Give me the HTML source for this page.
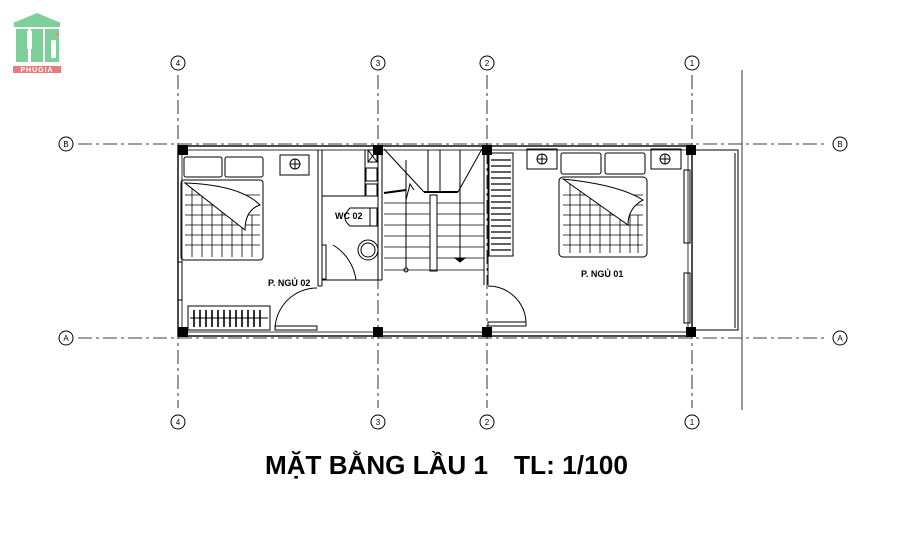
<!DOCTYPE html>
<html><head><meta charset="utf-8"><style>
html,body{margin:0;padding:0;background:#fff;}
svg{display:block;}
text{font-family:"Liberation Sans",sans-serif;}
</style></head><body>
<svg width="900" height="542" viewBox="0 0 900 542" xmlns="http://www.w3.org/2000/svg">
<rect width="900" height="542" fill="#fff"/>
<!-- logo -->
<g>
<polygon points="13,23 37,13 61,23" fill="#7fcf9a"/>
<rect x="14" y="22" width="46" height="5" fill="#7fcf9a"/>
<rect x="16" y="29" width="12" height="33" fill="#7fcf9a"/>
<rect x="31" y="29" width="12" height="33" fill="#7fcf9a"/>
<rect x="45" y="29" width="14" height="33" fill="#7fcf9a"/>
<rect x="27" y="31" width="5" height="18" fill="#fff"/>
<rect x="51" y="40" width="5" height="18" fill="#fff"/>
<rect x="56" y="33" width="3" height="3" fill="#e88"/>
<rect x="13" y="66" width="48" height="7" fill="#e87c7c"/>
<text x="37" y="72" font-size="7" fill="#fff" text-anchor="middle" font-weight="bold" letter-spacing="1">PHUGIA</text>
</g>
<g stroke="#000" fill="none" stroke-width="1">
<g stroke-dasharray="14,4,3,4" stroke-width="0.8">
<line x1="178" y1="75" x2="178" y2="408"/>
<line x1="378" y1="75" x2="378" y2="408"/>
<line x1="487" y1="75" x2="487" y2="408"/>
<line x1="692" y1="75" x2="692" y2="408"/>
<line x1="78" y1="144" x2="828" y2="144"/>
<line x1="78" y1="338" x2="828" y2="338"/>
</g>
<line x1="742" y1="70" x2="742" y2="410" stroke-width="0.8"/>
<g stroke-width="1">
<circle cx="178" cy="63" r="7"/><circle cx="378" cy="63" r="7"/><circle cx="487" cy="63" r="7"/><circle cx="692" cy="63" r="7"/>
<circle cx="178" cy="422" r="7"/><circle cx="378" cy="422" r="7"/><circle cx="487" cy="422" r="7"/><circle cx="692" cy="422" r="7"/>
<circle cx="66" cy="144" r="7"/><circle cx="840" cy="144" r="7"/><circle cx="66" cy="338" r="7"/><circle cx="840" cy="338" r="7"/>
</g>
<rect x="178" y="146" width="514" height="190" stroke-width="1.4"/>
<rect x="182" y="150" width="506" height="182" stroke-width="0.8"/>
<rect x="692" y="150" width="46" height="180"/>
<line x1="735" y1="153" x2="735" y2="328"/>
<line x1="318" y1="150" x2="318" y2="286"/>
<line x1="322" y1="150" x2="322" y2="286"/>
<line x1="318" y1="286" x2="322" y2="286"/>
<line x1="378" y1="150" x2="378" y2="280"/>
<line x1="382" y1="150" x2="382" y2="280"/>
<line x1="322" y1="280" x2="382" y2="280"/>
<line x1="484" y1="150" x2="484" y2="285"/>
<line x1="488" y1="150" x2="488" y2="285"/>
<line x1="322" y1="196" x2="365" y2="196"/>
<line x1="365" y1="150" x2="365" y2="196"/>
<path d="M275,330 A42,42 0 0 1 317,288"/>
<rect x="275" y="326" width="42" height="4"/>
<path d="M333,245 A48,48 0 0 1 356,280"/>
<rect x="322" y="245" width="4" height="34"/>
<path d="M488,286 A38,38 0 0 1 526,322"/>
<rect x="488" y="322" width="38" height="4"/>
<g fill="#000" stroke="none">
<rect x="178" y="145" width="10" height="10"/><rect x="373" y="145" width="10" height="10"/><rect x="482" y="145" width="10" height="10"/><rect x="686" y="145" width="10" height="10"/>
<rect x="178" y="327" width="10" height="10"/><rect x="373" y="327" width="10" height="10"/><rect x="482" y="327" width="10" height="10"/><rect x="686" y="327" width="10" height="10"/>
</g>
<rect x="184" y="157" width="38" height="20" rx="2"/><rect x="225" y="157" width="38" height="20" rx="2"/>
<rect x="181" y="180" width="82" height="80" rx="3"/>
<rect x="280" y="155" width="29" height="20"/><circle cx="295" cy="164" r="5"/><line x1="290" y1="164" x2="300" y2="164"/><line x1="295" y1="159" x2="295" y2="169"/>
<g stroke-width="0.8">
<line x1="185" y1="195" x2="260" y2="195"/><line x1="185" y1="205" x2="260" y2="205"/><line x1="185" y1="215" x2="260" y2="215"/><line x1="185" y1="225" x2="260" y2="225"/><line x1="185" y1="235" x2="260" y2="235"/><line x1="185" y1="245" x2="260" y2="245"/>
<line x1="192" y1="185" x2="192" y2="257"/><line x1="202" y1="185" x2="202" y2="257"/><line x1="212" y1="190" x2="212" y2="257"/><line x1="222" y1="195" x2="222" y2="257"/><line x1="232" y1="205" x2="232" y2="257"/><line x1="242" y1="215" x2="242" y2="257"/><line x1="252" y1="215" x2="252" y2="257"/>
</g>
<path d="M185,183 Q240,185 260,205 Q245,210 245,230 Z" fill="#fff"/>
<rect x="188" y="306" width="82" height="24"/>
<g stroke-width="1.6"><line x1="194" y1="310" x2="194" y2="327"/><line x1="200" y1="310" x2="200" y2="327"/><line x1="206" y1="310" x2="206" y2="327"/><line x1="212" y1="310" x2="212" y2="327"/><line x1="218" y1="310" x2="218" y2="327"/><line x1="224" y1="310" x2="224" y2="327"/><line x1="230" y1="310" x2="230" y2="327"/><line x1="236" y1="310" x2="236" y2="327"/><line x1="242" y1="310" x2="242" y2="327"/><line x1="248" y1="310" x2="248" y2="327"/><line x1="254" y1="310" x2="254" y2="327"/><line x1="260" y1="310" x2="260" y2="327"/></g>
<line x1="190" y1="318" x2="268" y2="318"/>
<rect x="178" y="262" width="4" height="38"/>
<rect x="368" y="150" width="9" height="12"/><line x1="368" y1="150" x2="377" y2="162"/><line x1="377" y1="150" x2="368" y2="162"/>
<rect x="366" y="168" width="11" height="13"/><rect x="366" y="184" width="11" height="12"/>
<path d="M350,208 Q340,218 350,226 L370,226 L370,208 Z"/><rect x="370" y="208" width="7" height="18"/>
<circle cx="368" cy="250" r="10"/><circle cx="368" cy="250" r="7"/>
<line x1="384" y1="149" x2="424" y2="192"/><line x1="482" y1="149" x2="458" y2="192"/>
<line x1="424" y1="192" x2="458" y2="192" stroke-width="2"/>
<line x1="384" y1="193" x2="406" y2="190" stroke-width="2"/>
<path d="M406,200 L410,184 L414,190"/>
<line x1="406" y1="160" x2="406" y2="268"/><line x1="428" y1="150" x2="428" y2="192"/><line x1="440" y1="150" x2="440" y2="192"/><line x1="460" y1="150" x2="460" y2="258"/>
<rect x="430" y="195" width="7" height="76"/>
<g stroke-width="0.8">
<line x1="384" y1="203" x2="430" y2="203"/><line x1="437" y1="203" x2="484" y2="203"/>
<line x1="384" y1="214" x2="430" y2="214"/><line x1="437" y1="214" x2="484" y2="214"/>
<line x1="384" y1="225" x2="430" y2="225"/><line x1="437" y1="225" x2="484" y2="225"/>
<line x1="384" y1="236" x2="430" y2="236"/><line x1="437" y1="236" x2="484" y2="236"/>
<line x1="384" y1="247" x2="430" y2="247"/><line x1="437" y1="247" x2="484" y2="247"/>
<line x1="384" y1="258" x2="430" y2="258"/><line x1="437" y1="258" x2="484" y2="258"/>
<line x1="384" y1="270" x2="484" y2="270"/>
</g>
<circle cx="406" cy="270" r="2"/><path d="M455,258 L465,258 L460,262 Z" fill="#000"/>
<rect x="489" y="153" width="24" height="103"/>
<g stroke-width="1.2"><line x1="491" y1="160" x2="511" y2="160"/><line x1="491" y1="166" x2="511" y2="166"/><line x1="491" y1="172" x2="511" y2="172"/><line x1="491" y1="178" x2="511" y2="178"/><line x1="491" y1="184" x2="511" y2="184"/><line x1="491" y1="190" x2="511" y2="190"/><line x1="491" y1="196" x2="511" y2="196"/><line x1="491" y1="202" x2="511" y2="202"/><line x1="491" y1="208" x2="511" y2="208"/><line x1="491" y1="214" x2="511" y2="214"/><line x1="491" y1="220" x2="511" y2="220"/><line x1="491" y1="226" x2="511" y2="226"/><line x1="491" y1="232" x2="511" y2="232"/><line x1="491" y1="238" x2="511" y2="238"/><line x1="491" y1="244" x2="511" y2="244"/><line x1="491" y1="250" x2="511" y2="250"/></g>
<rect x="527" y="149" width="30" height="20"/><circle cx="542" cy="159" r="5"/><line x1="537" y1="159" x2="547" y2="159"/><line x1="542" y1="154" x2="542" y2="164"/>
<rect x="651" y="149" width="30" height="20"/><circle cx="665" cy="159" r="5"/><line x1="660" y1="159" x2="670" y2="159"/><line x1="665" y1="154" x2="665" y2="164"/>
<rect x="561" y="153" width="40" height="21" rx="2"/><rect x="605" y="153" width="40" height="21" rx="2"/>
<rect x="559" y="177" width="88" height="80" rx="4"/>
<g stroke-width="0.8">
<line x1="563" y1="195" x2="643" y2="195"/><line x1="563" y1="205" x2="643" y2="205"/><line x1="563" y1="215" x2="643" y2="215"/><line x1="563" y1="225" x2="643" y2="225"/><line x1="563" y1="235" x2="643" y2="235"/><line x1="563" y1="245" x2="643" y2="245"/>
<line x1="570" y1="182" x2="570" y2="253"/><line x1="580" y1="182" x2="580" y2="253"/><line x1="590" y1="186" x2="590" y2="253"/><line x1="600" y1="190" x2="600" y2="253"/><line x1="610" y1="196" x2="610" y2="253"/><line x1="620" y1="205" x2="620" y2="253"/><line x1="630" y1="215" x2="630" y2="253"/><line x1="638" y1="215" x2="638" y2="253"/>
</g>
<path d="M563,179 Q620,185 643,200 Q628,208 628,225 Z" fill="#fff"/>
<rect x="684" y="170" width="6" height="73"/><rect x="684" y="273" width="6" height="50"/>
</g>
<text x="268" y="286" font-size="9" font-weight="bold">P. NGỦ 02</text>
<text x="335" y="219" font-size="9" font-weight="bold">WC 02</text>
<text x="581" y="277" font-size="9" font-weight="bold">P. NGỦ 01</text>
<g font-size="8" text-anchor="middle" fill="#000">
<text x="178" y="66">4</text><text x="378" y="66">3</text><text x="487" y="66">2</text><text x="692" y="66">1</text>
<text x="178" y="425">4</text><text x="378" y="425">3</text><text x="487" y="425">2</text><text x="692" y="425">1</text>
<text x="66" y="147">B</text><text x="840" y="147">B</text><text x="66" y="341">A</text><text x="840" y="341">A</text>
</g>
<text x="265" y="474" font-size="26" font-weight="bold" textLength="223" lengthAdjust="spacingAndGlyphs">MẶT BẰNG LẦU 1</text>
<text x="514" y="474" font-size="26" font-weight="bold" textLength="114" lengthAdjust="spacingAndGlyphs">TL: 1/100</text>
</svg>
</body></html>
